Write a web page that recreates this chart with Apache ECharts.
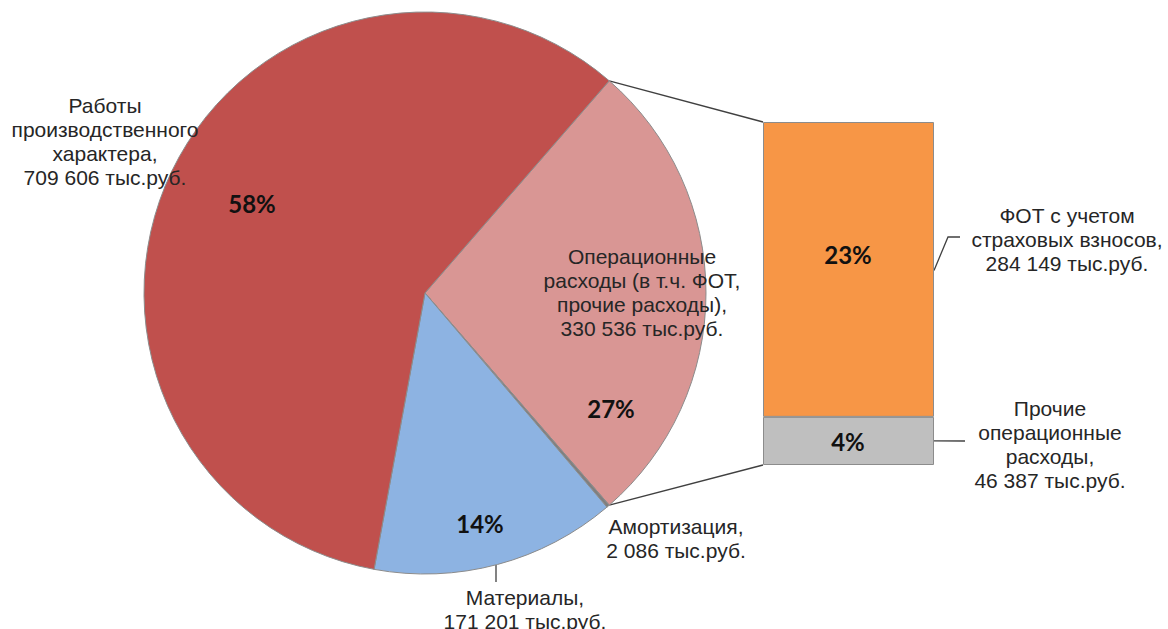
<!DOCTYPE html>
<html>
<head>
<meta charset="utf-8">
<script src="https://cdn.jsdelivr.net/npm/echarts@6/dist/echarts.min.js"></script>
<style>
  html, body { margin: 0; padding: 0; background: #fff; }
  #chart { width: 1168px; height: 629px; }
</style>
</head>
<body>
<div id="chart"></div>
<script>
// данные круговой диаграммы (по часовой стрелке, начиная с операционных расходов)
const pieNames = ['Операционные расходы', 'Амортизация', 'Материалы', 'Работы производственного характера']
const pieLabels = ['Операционные\nрасходы (в т.ч. ФОТ,\nпрочие расходы),', 'Амортизация,', 'Материалы,', 'Работы\nпроизводственного\nхарактера,']
const pieValues = [330536, 2086, 171201, 709606]
const pieColors = ['#D99694', '#7F7F7F', '#8DB3E2', '#C0504D']

// расшифровка операционных расходов (столбец)
const barNames = ['Прочие операционные расходы', 'ФОТ с учетом страховых взносов']
const barLabels = ['Прочие\nоперационные\nрасходы,', 'ФОТ с учетом\nстраховых взносов,']
const barValues = [46387, 284149]
const barColors = ['#BFBFBF', '#F79646']

// разметка
const center = [425, 293]
const radius = 281
const barBox = {left: 763, top: 122, width: 171, height: 343}
const pctPos = [[611, 408], null, [480, 523], [252, 203]]
const namePos = [[642, 292], [676, 538], [525, 609], [105, 141]]
const barPctPos = [[848, 441], [848, 254]]
const barNamePos = [[1050, 444], [1067, 239]]

const total = pieValues.reduce((a, b) => a + b, 0)
const opTotal = barValues.reduce((a, b) => a + b, 0)
const startAngle = pieValues[0] / total * 360 / 2

const fmt = (v) => String(v).replace(/\B(?=(\d{3})+(?!\d))/g, ' ')
const txt = {fontFamily: 'Liberation Sans', fontSize: 21, lineHeight: 24, color: '#262626'}
const pct = {fontFamily: 'Lato', fontWeight: 'bold', fontSize: 24, color: '#111'}

const at = (list) => (params) => {
  const p = list[params.dataIndex]
  return p ? {x: p[0], y: p[1], align: 'center', verticalAlign: 'middle'} : {}
}
const atSeries = (list, from) => (params) => {
  const p = list[params.seriesIndex - from]
  return p ? {x: p[0], y: p[1], align: 'center', verticalAlign: 'middle'} : {}
}

// точки соединительных линий
const rad = (a) => a * Math.PI / 180
const a1 = startAngle
const a2 = startAngle - pieValues[0] / total * 360
const pTop = [center[0] + radius * Math.cos(rad(a1)), center[1] - radius * Math.sin(rad(a1))]
const pBot = [center[0] + radius * Math.cos(rad(a2)), center[1] - radius * Math.sin(rad(a2))]
const barRight = barBox.left + barBox.width
const barSplit = barBox.top + barBox.height * barValues[1] / opTotal

const line = (points, color) => ({
  type: 'polyline', silent: true,
  shape: {points},
  style: {stroke: color, lineWidth: 1.3, fill: null}
})

const chart = echarts.init(document.getElementById('chart'), null, {renderer: 'svg'})

const option = {
  animation: false,
  grid: {left: barBox.left, top: barBox.top, width: barBox.width, height: barBox.height},
  xAxis: {type: 'category', data: ['op'], show: false},
  yAxis: {type: 'value', min: 0, max: opTotal, show: false},
  series: [
    {
      type: 'pie',
      center, radius,
      startAngle,
      clockwise: true,
      silent: true,
      data: pieValues.map((v, i) => ({name: pieNames[i], value: v, itemStyle: {color: pieColors[i]}})),
      itemStyle: {borderColor: '#8C8C8C', borderWidth: 1},
      label: {
        show: true, position: 'inside', ...pct,
        formatter: (p) => p.dataIndex === 1 ? '' : Math.round(p.percent) + '%'
      },
      labelLine: {show: false},
      labelLayout: at(pctPos)
    },
    {
      type: 'pie',
      center, radius,
      startAngle,
      clockwise: true,
      silent: true,
      z: 3,
      data: pieValues.map((v, i) => ({name: pieNames[i], value: v})),
      itemStyle: {color: 'rgba(0,0,0,0)', borderWidth: 0},
      label: {
        show: true, position: 'inside', ...txt, align: 'center',
        formatter: (p) => pieLabels[p.dataIndex] + '\n' + fmt(p.value) + ' тыс.руб.'
      },
      labelLine: {show: false},
      labelLayout: at(namePos)
    },
    ...barValues.map((v, i) => ({
      type: 'bar', name: barNames[i], stack: 'op', barWidth: '100%', barGap: '-100%', silent: true,
      data: [v],
      itemStyle: {color: barColors[i], borderColor: '#8C8C8C', borderWidth: 1},
      label: {show: true, ...pct, formatter: () => Math.round(v / total * 100) + '%'},
      labelLayout: atSeries(barPctPos, 2)
    })),
    ...barValues.map((v, i) => ({
      type: 'bar', name: barNames[i] + ' подпись', stack: 'names', barWidth: '100%', barGap: '-100%', silent: true,
      data: [v],
      itemStyle: {color: 'rgba(0,0,0,0)', borderWidth: 0},
      label: {show: true, ...txt, align: 'center', formatter: () => barLabels[i] + '\n' + fmt(v) + ' тыс.руб.'},
      labelLayout: atSeries(barNamePos, 4)
    }))
  ],
  graphic: [
    line([pTop, [barBox.left, barBox.top]], '#404040'),
    line([pBot, [barBox.left, barBox.top + barBox.height]], '#404040'),
    line([[496, 565], [496, 582]], '#404040'),
    line([[barRight, (barBox.top + barSplit) / 2 + 1], [948, 237], [960, 237]], '#404040'),
    line([[barRight, (barSplit + barBox.top + barBox.height) / 2], [965, 441]], '#404040')
  ]
}

chart.setOption(option)
</script>
</body>
</html>
